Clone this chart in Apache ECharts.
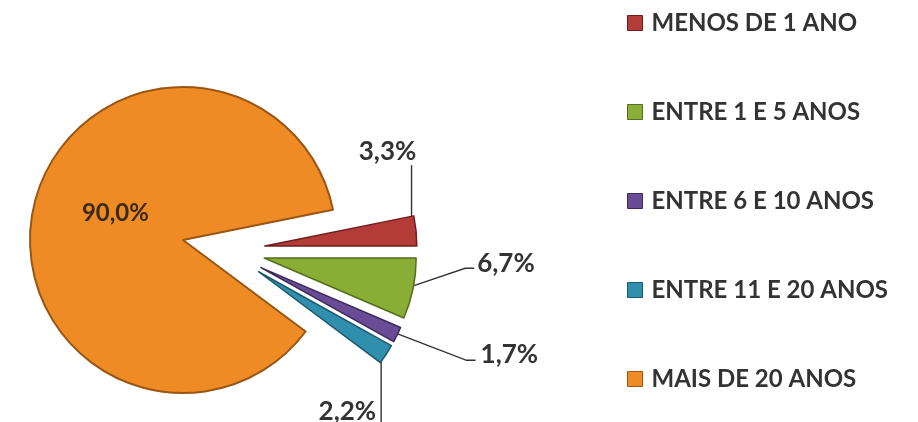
<!DOCTYPE html>
<html>
<head>
<meta charset="utf-8">
<script src="https://cdn.jsdelivr.net/npm/echarts@6/dist/echarts.min.js"></script>
<style>
  html, body { margin: 0; padding: 0; background: #ffffff; }
  #chart { width: 918px; height: 422px; }
</style>
</head>
<body>
<div id="chart"></div>
<script>
// Tempo de serviço: distribuição percentual por faixa
const categories = ['MENOS DE 1 ANO', 'ENTRE 1 E 5 ANOS', 'ENTRE 6 E 10 ANOS', 'ENTRE 11 E 20 ANOS', 'MAIS DE 20 ANOS'];
const shares = [3.3, 6.7, 1.7, 2.2, 90.0];
const sliceColors = ['#b33b38', '#8aad35', '#6a4c96', '#2f8fad', '#ee8b24'];
const sliceEdges = ['#6e1f1d', '#536e1c', '#3c2a5a', '#1b5a6e', '#9a5614'];

const FONT = 'Lato, "Open Sans", sans-serif';
const MAIN_INDEX = 4;
const total = shares.reduce((a, b) => a + b, 0);
// first slice begins this far above the horizontal and runs clockwise
const startAngle = shares[0] / total * 360;

const pct = v => v.toFixed(1).replace('.', ',') + '%';
const hidden = {
  itemStyle: { color: 'rgba(0,0,0,0)', borderWidth: 0 },
  label: { show: false },
  labelLine: { show: false }
};

// large slice stays in place
const mainData = shares.map((v, i) => i === MAIN_INDEX
  ? { name: categories[i], value: v,
      itemStyle: { color: sliceColors[i], borderColor: sliceEdges[i], borderWidth: 2 } }
  : Object.assign({ name: '', value: v }, hidden));

// small slices are pulled out to the right
const detailData = shares.map((v, i) => i !== MAIN_INDEX
  ? { name: categories[i], value: v, selected: true,
      itemStyle: { color: sliceColors[i], borderColor: sliceEdges[i], borderWidth: 1.5 } }
  : Object.assign({ name: '', value: v }, hidden));

// label placement and leader lines, relative to each slice's own box
function placeDetailLabel(p) {
  const r = p.rect, l = p.labelRect;
  const right = r.x + r.width, bottom = r.y + r.height;
  const w = l.width, h = l.height;
  let tx, ty, pts;
  switch (p.dataIndex) {
    case 0:
      tx = right - 30; ty = r.y - 64;
      pts = [[right - 6, r.y + 3], [right - 6, ty + h / 2 + 1]];
      break;
    case 1:
      tx = right + 89; ty = r.y + 6;
      pts = [[right - 3, r.y + r.height * 0.46], [tx - w / 2 - 12, ty + 5], [tx - w / 2 - 3, ty + 5]];
      break;
    case 2:
      tx = right + 108; ty = bottom + 12;
      pts = [[right - 5, bottom - 9], [tx - w / 2 - 14, ty + 6], [tx - w / 2 - 5, ty + 6]];
      break;
    case 3:
      tx = right - 11 - 5 - w / 2; ty = bottom + 48;
      pts = [[right - 11, bottom - 4], [right - 11, ty + h / 2 + 14]];
      break;
    default:
      return {};
  }
  return {
    dx: tx - (l.x + w / 2),
    dy: ty - (l.y + h / 2),
    labelLinePoints: pts
  };
}

const chart = echarts.init(document.getElementById('chart'), null, { renderer: 'canvas' });
chart.setOption({
  animation: false,
  backgroundColor: '#ffffff',
  legend: {
    orient: 'vertical',
    left: 622,
    top: 5,
    itemWidth: 15,
    itemHeight: 15,
    itemGap: 63,
    icon: 'rect',
    selectedMode: false,
    data: categories.map((n, i) => ({ name: n, itemStyle: { color: sliceColors[i], borderColor: sliceEdges[i], borderWidth: 1 } })),
    textStyle: { fontFamily: FONT, fontSize: 24, fontWeight: 'bold', color: '#333333', lineHeight: 26, padding: [0, 0, 0, 4] }
  },
  series: [
    {
      type: 'pie',
      center: [183, 240],
      radius: 153,
      startAngle: startAngle,
      clockwise: true,
      silent: true,
      emphasis: { disabled: true },
      data: mainData,
      label: {
        show: true,
        position: 'inside',
        formatter: p => pct(p.value),
        fontFamily: FONT,
        fontSize: 24,
        fontWeight: 'bold',
        color: '#3a2a18'
      },
      labelLine: { show: false },
      labelLayout: p => ({ dx: 10, dy: -9 })
    },
    {
      type: 'pie',
      center: [225, 250],
      radius: 152,
      startAngle: startAngle,
      clockwise: true,
      selectedMode: 'multiple',
      selectedOffset: 40,
      silent: true,
      emphasis: { disabled: true },
      data: detailData,
      label: {
        show: true,
        position: 'outside',
        formatter: p => pct(p.value),
        fontFamily: FONT,
        fontSize: 26,
        fontWeight: 'bold',
        color: '#333333'
      },
      labelLine: { show: true, length: 20, length2: 10, lineStyle: { color: '#333333', width: 1.4 } },
      labelLayout: placeDetailLabel
    }
  ]
});
</script>
</body>
</html>
